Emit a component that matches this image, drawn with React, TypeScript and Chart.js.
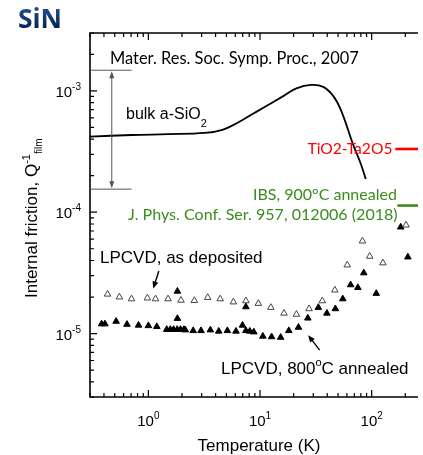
import React, { useEffect, useRef } from "react";
import { Chart, registerables } from "chart.js";

Chart.register(...registerables);

// ---- Data ----
// bulk a-SiO2 curve (Mater. Res. Soc. Symp. Proc., 2007)
const bulkT = [0.3, 0.71, 1.5, 3.2, 4.6, 6.3, 8.2, 10.8, 16.3, 21.2, 28.8, 36.8, 45.2, 53.2, 67.9, 80, 88.5];
const bulkQ = [4.2e-4, 4.33e-4, 4.4e-4, 4.5e-4, 4.78e-4, 5.46e-4, 6.29e-4, 7.3e-4, 9.1e-4, 1.05e-3, 1.12e-3, 1.08e-3, 9.1e-4, 6.9e-4, 3.65e-4, 2.5e-4, 1.88e-4];

// LPCVD, as deposited (open triangles)
const asDepT = [0.431, 0.55, 0.707, 0.98, 1.16, 1.5, 1.96, 2.58, 3.4, 4.4, 5.77, 7.47, 9.66, 12.5, 16.4, 21.2, 27.5, 36.1, 46.8, 60.4, 82.7, 96, 126, 203];
const asDepQ = [2.11e-5, 2.0e-5, 1.93e-5, 1.96e-5, 1.93e-5, 1.93e-5, 1.88e-5, 1.87e-5, 1.98e-5, 1.93e-5, 1.82e-5, 1.86e-5, 1.77e-5, 1.64e-5, 1.47e-5, 1.44e-5, 1.6e-5, 1.86e-5, 2.28e-5, 3.67e-5, 5.78e-5, 4.33e-5, 3.82e-5, 7.83e-5];

// LPCVD, 800°C annealed (filled triangles)
const annT = [0.381, 0.408, 0.514, 0.643, 0.816, 1.0, 1.19, 1.46, 1.57, 1.68, 1.81, 1.94, 2.08, 1.82, 1.82, 2.14, 2.52, 2.96, 3.59, 4.27, 5.1, 6.09, 6.97, 7.47, 7.47, 8.1, 8.8, 10.6, 12.7, 15.3, 18.1, 22.1, 26.8, 33.3, 39.7, 47.3, 55.1, 64.8, 75.2, 85, 110, 182, 211];
const annQ = [1.2e-5, 1.2e-5, 1.26e-5, 1.19e-5, 1.17e-5, 1.16e-5, 1.14e-5, 1.08e-5, 1.08e-5, 1.08e-5, 1.08e-5, 1.08e-5, 1.08e-5, 1.33e-5, 2.23e-5, 1.07e-5, 1.056e-5, 1.056e-5, 1.07e-5, 1.045e-5, 1.056e-5, 1.045e-5, 1.17e-5, 1.056e-5, 1.66e-5, 1.045e-5, 1.03e-5, 9.5e-6, 9.4e-6, 9.3e-6, 1.056e-5, 1.125e-5, 1.34e-5, 1.64e-5, 1.47e-5, 1.6e-5, 1.93e-5, 2.52e-5, 2.39e-5, 3.16e-5, 2.14e-5, 7.54e-5, 4.27e-5];

// reference levels
const tiTaLevel = 3.32e-4;
const ibsLevel = 1.135e-4;
const bulkRangeTop = 1.48e-3;
const bulkRangeBottom = 1.55e-4;

// tick labels
const xTickValues = [1, 10, 100];
const xTickExp = ["0", "1", "2"];
const yTickValues = [1e-3, 1e-4, 1e-5];
const yTickExp = ["-3", "-4", "-5"];

const HELV = '"Liberation Sans", Arial, sans-serif';
const CALI = 'Lato, "Open Sans", sans-serif';

type Seg = [string, number, number];

function drawRich(ctx: CanvasRenderingContext2D, segs: Seg[], x: number, y: number, align: string, family: string, color: string) {
  let total = 0;
  for (const s of segs) {
    ctx.font = `${s[1]}px ${family}`;
    total += ctx.measureText(s[0]).width;
  }
  let cx = align === "center" ? x - total / 2 : align === "right" ? x - total : x;
  ctx.textAlign = "left";
  ctx.textBaseline = "alphabetic";
  ctx.fillStyle = color;
  for (const s of segs) {
    ctx.font = `${s[1]}px ${family}`;
    ctx.fillText(s[0], cx, y + s[2]);
    cx += ctx.measureText(s[0]).width;
  }
}

function fitText(ctx: CanvasRenderingContext2D, text: string, family: string, weight: string, left: number, right: number, baseline: number, color: string | CanvasGradient) {
  ctx.font = `${weight} 100px ${family}`;
  const w = ctx.measureText(text).width;
  const size = (100 * (right - left)) / w;
  ctx.font = `${weight} ${size}px ${family}`;
  ctx.fillStyle = color;
  ctx.textAlign = "left";
  ctx.textBaseline = "alphabetic";
  ctx.fillText(text, left, baseline);
}

function arrowHead(ctx: CanvasRenderingContext2D, x1: number, y1: number, x2: number, y2: number, len: number, w: number) {
  const ang = Math.atan2(y2 - y1, x2 - x1);
  const c = Math.cos(ang), s = Math.sin(ang);
  ctx.beginPath();
  ctx.moveTo(x2, y2);
  ctx.lineTo(x2 - len * c + w * s, y2 - len * s - w * c);
  ctx.lineTo(x2 - len * c - w * s, y2 - len * s + w * c);
  ctx.closePath();
  ctx.fill();
}

export default function App() {
  const ref = useRef<HTMLCanvasElement>(null);
  useEffect(() => {
    const canvas = ref.current!;
    const overlay = {
      id: "overlay",
      afterDraw(chart: any) {
        const ctx: CanvasRenderingContext2D = chart.ctx;
        const xs = chart.scales.x;
        const ys = chart.scales.y;
        const a = chart.chartArea;
        const X = (v: number) => xs.getPixelForValue(v);
        const Y = (v: number) => ys.getPixelForValue(v);
        ctx.save();

        // frame
        ctx.strokeStyle = "#000";
        ctx.lineWidth = 1.6;
        ctx.beginPath();
        ctx.moveTo(a.right, a.top);
        ctx.lineTo(a.left, a.top);
        ctx.lineTo(a.left, a.bottom);
        ctx.lineTo(a.right, a.bottom);
        ctx.stroke();

        // ticks
        ctx.lineWidth = 1.2;
        ctx.beginPath();
        for (let d = -1; d <= 3; d++) {
          for (let m = 1; m <= 9; m++) {
            const v = m * Math.pow(10, d);
            if (v < xs.min || v > xs.max) continue;
            const px = X(v);
            const len = m === 1 ? 7 : 4;
            ctx.moveTo(px, a.bottom);
            ctx.lineTo(px, a.bottom - len);
            ctx.moveTo(px, a.top);
            ctx.lineTo(px, a.top + len);
          }
        }
        for (let d = -7; d <= -2; d++) {
          for (let m = 1; m <= 9; m++) {
            const v = m * Math.pow(10, d);
            if (v < ys.min || v > ys.max) continue;
            const py = Y(v);
            const len = m === 1 ? 7 : 4;
            ctx.moveTo(a.left, py);
            ctx.lineTo(a.left + len, py);
          }
        }
        ctx.stroke();

        // tick labels
        xTickValues.forEach((v, i) => {
          drawRich(ctx, [["10", 15, 0], [xTickExp[i], 10, -7]], X(v), a.bottom + 29, "center", HELV, "#000");
        });
        yTickValues.forEach((v, i) => {
          drawRich(ctx, [["10", 15, 0], [yTickExp[i], 10, -7]], a.left - 9, Y(v) + 6, "right", HELV, "#000");
        });

        // axis titles
        drawRich(ctx, [["Temperature (K)", 17, 0]], (a.left + a.right) / 2 + 5, 451, "center", HELV, "#000");
        ctx.save();
        ctx.translate(37, 298);
        ctx.rotate(-Math.PI / 2);
        drawRich(ctx, [["Internal friction, Q", 17, 0], ["-1", 11, -7], ["film", 10, 5]], 0, 0, "left", HELV, "#000");
        ctx.restore();

        // bulk range bracket
        ctx.strokeStyle = "#555";
        ctx.fillStyle = "#555";
        ctx.lineWidth = 1;
        const brRight = X(0.707);
        const brX = X(0.47);
        const yTop = Y(bulkRangeTop);
        const yBot = Y(bulkRangeBottom);
        ctx.beginPath();
        ctx.moveTo(a.left, yTop);
        ctx.lineTo(brRight, yTop);
        ctx.moveTo(a.left, yBot);
        ctx.lineTo(brRight, yBot);
        ctx.moveTo(brX, yTop + 3);
        ctx.lineTo(brX, yBot - 3);
        ctx.stroke();
        arrowHead(ctx, brX, yBot, brX, yTop + 1, 7, 2.5);
        arrowHead(ctx, brX, yTop, brX, yBot - 1, 7, 2.5);

        // reference level lines
        ctx.lineWidth = 2.6;
        ctx.strokeStyle = "#ff0000";
        ctx.beginPath();
        ctx.moveTo(X(163), Y(tiTaLevel));
        ctx.lineTo(a.right, Y(tiTaLevel));
        ctx.stroke();
        ctx.strokeStyle = "#3a8c1c";
        ctx.beginPath();
        ctx.moveTo(X(170), Y(ibsLevel));
        ctx.lineTo(a.right, Y(ibsLevel));
        ctx.stroke();

        // LPCVD arrows
        ctx.strokeStyle = "#000";
        ctx.fillStyle = "#000";
        ctx.lineWidth = 1.4;
        {
          const x1 = X(1.24), y1 = Y(3.28e-5), x2 = X(1.107), y2 = Y(2.35e-5);
          ctx.beginPath();
          ctx.moveTo(x1, y1);
          ctx.lineTo(x2 + (x1 - x2) * 0.3, y2 + (y1 - y2) * 0.3);
          ctx.stroke();
          arrowHead(ctx, x1, y1, x2, y2, 7, 3);
        }
        {
          const x1 = X(34.2), y1 = Y(7.3e-6), x2 = X(27.0), y2 = Y(9.7e-6);
          ctx.beginPath();
          ctx.moveTo(x1, y1);
          ctx.lineTo(x2 + (x1 - x2) * 0.3, y2 + (y1 - y2) * 0.3);
          ctx.stroke();
          arrowHead(ctx, x1, y1, x2, y2, 7, 3);
        }

        // annotation texts
        drawRich(ctx, [["LPCVD, as deposited", 17, 0]], 100, 263, "left", HELV, "#000");
        drawRich(ctx, [["LPCVD, 800", 17, 0], ["o", 11, -8], ["C annealed", 17, 0]], 221, 373.5, "left", HELV, "#000");
        drawRich(ctx, [["bulk a-SiO", 16, 0], ["2", 11, 8]], 126, 119, "left", HELV, "#000");

        fitText(ctx, "Mater. Res. Soc. Symp. Proc., 2007", CALI, "normal", 110, 359, 64, "#000");
        fitText(ctx, "TiO2-Ta2O5", CALI, "normal", 307.5, 392.5, 153.5, "#ff0000");
        fitText(ctx, "IBS, 900°C annealed", CALI, "normal", 253, 397, 199.5, "#3a8c1c");
        fitText(ctx, "J. Phys. Conf. Ser. 957, 012006 (2018)", CALI, "normal", 128, 398, 219.5, "#3a8c1c");

        const grad = ctx.createLinearGradient(0, 10, 0, 28);
        grad.addColorStop(0, "#1f4a90");
        grad.addColorStop(1, "#0a2350");
        fitText(ctx, "SiN", '"Open Sans", Lato, sans-serif', "bold", 18, 62, 28, grad);

        ctx.restore();
      },
    };

    const chart = new Chart(canvas, {
      type: "scatter",
      data: {
        datasets: [
          {
            label: "bulk a-SiO2",
            data: bulkT.map((t, i) => ({ x: t, y: bulkQ[i] })),
            showLine: true,
            borderColor: "#000",
            borderWidth: 1.8,
            pointRadius: 0,
            tension: 0.4,
            fill: false,
          },
          {
            label: "LPCVD, as deposited",
            data: asDepT.map((t, i) => ({ x: t, y: asDepQ[i] })),
            pointStyle: "triangle",
            pointRadius: 3.8,
            backgroundColor: "#fff",
            borderColor: "#444",
            borderWidth: 1,
          },
          {
            label: "LPCVD, 800°C annealed",
            data: annT.map((t, i) => ({ x: t, y: annQ[i] })),
            pointStyle: "triangle",
            pointRadius: 3.8,
            backgroundColor: "#000",
            borderColor: "#000",
            borderWidth: 1,
          },
        ],
      },
      options: {
        animation: false,
        responsive: false,
        maintainAspectRatio: false,
        layout: { padding: { left: 90, top: 33, right: 0, bottom: 58 } },
        plugins: { legend: { display: false }, tooltip: { enabled: false } },
        scales: {
          x: { type: "logarithmic", min: 0.3, max: 260, display: false },
          y: { type: "logarithmic", min: 3e-6, max: 3e-3, display: false },
        },
      },
      plugins: [overlay],
    } as any);
    return () => chart.destroy();
  }, []);

  return (
    <div style={{ position: "fixed", left: 0, top: 0, width: 423, height: 455, background: "#fff" }}>
      <canvas ref={ref} width={423} height={455} style={{ width: 423, height: 455, display: "block" }} />
    </div>
  );
}
